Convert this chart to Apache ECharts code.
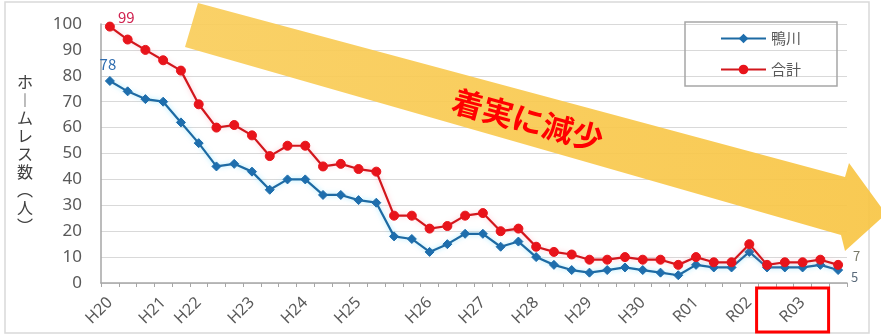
<!DOCTYPE html>
<html>
<head>
<meta charset="utf-8">
<script src="https://cdn.jsdelivr.net/npm/echarts/dist/echarts.min.js"></script>
<style>
html,body{margin:0;padding:0;background:#fff;}
#c{width:881px;height:336px;}
</style>
</head>
<body>
<div id="c"></div>
<script>
// ---- data ----
const xTickLabels = ['H20','','','H21','','H22','','','H23','','','H24','','','H25','','','','H26','','','H27','','','H28','','','H29','','','H30','','','R01','','','R02','','','R03','',''];
const categories = xTickLabels.map((l, i) => 'S' + (i + 1));
const kamogawa = [78,74,71,70,62,54,45,46,43,36,40,40,34,34,32,31,18,17,12,15,19,19,14,16,10,7,5,4,5,6,5,4,3,7,6,6,12,6,6,6,7,5];
const total    = [99,94,90,86,82,69,60,61,57,49,53,53,45,46,44,43,26,26,21,22,26,27,20,21,14,12,11,9,9,10,9,9,7,10,8,8,15,7,8,8,9,7];
const yTicks = [0,10,20,30,40,50,60,70,80,90,100];
const seriesNames = ['鴨川', '合計'];
const yAxisName = 'ホ\n︱\nム\nレ\nス\n数\n︵\n人\n︶';
const annotationText = '着実に減少';
const highlightCategoryIndex = 39;

const FONT = '"Noto Sans CJK JP", "Noto Sans", sans-serif';
const chart = echarts.init(document.getElementById('c'), null, {renderer: 'canvas'});

function withEndLabels(values, firstLabel, lastLabel) {
  const last = values.length - 1;
  return values.map((v, i) => {
    if (i === 0) return {value: v, label: firstLabel};
    if (i === last) return {value: v, label: lastLabel};
    return v;
  });
}

const blueData = withEndLabels(kamogawa,
  {show: true, position: 'top', distance: 4, offset: [-2, 0], color: '#2F6DB0', fontSize: 15, fontFamily: FONT},
  {show: true, position: 'right', distance: 4, offset: [4, 7], color: '#5b6b7b', fontSize: 13, fontFamily: FONT});
const redData = withEndLabels(total,
  {show: true, position: 'right', distance: 3, offset: [0, -9], color: '#D0214F', fontSize: 15, fontFamily: FONT},
  {show: true, position: 'right', distance: 4, offset: [6, -9], color: '#7a7a6a', fontSize: 13, fontFamily: FONT});

const option = {
  animation: false,
  backgroundColor: '#ffffff',
  textStyle: {fontFamily: FONT},
  grid: {left: 101, right: 34, top: 24, bottom: 53, containLabel: false},
  legend: {
    orient: 'vertical',
    left: 685, top: 22,
    padding: [9, 36, 9, 35],
    itemGap: 16,
    itemWidth: 45, itemHeight: 12,
    borderColor: '#A6A6A6', borderWidth: 1.5,
    textStyle: {fontSize: 15, color: '#595959', fontFamily: FONT},
    data: seriesNames
  },
  xAxis: {
    type: 'category',
    data: categories,
    boundaryGap: true,
    axisLine: {show: true, lineStyle: {color: '#A6A6A6', width: 1.5}},
    axisTick: {show: true, interval: 0, length: 4, lineStyle: {color: '#A6A6A6'}},
    axisLabel: {
      interval: 0, rotate: 45, margin: 17,
      fontSize: 16, color: '#5a5a5a', fontFamily: '"Noto Sans", sans-serif',
      hideOverlap: false,
      formatter: (v, i) => xTickLabels[i]
    },
    splitLine: {show: false}
  },
  yAxis: {
    type: 'value',
    min: yTicks[0], max: yTicks[yTicks.length - 1], interval: 10,
    name: yAxisName,
    nameLocation: 'middle',
    nameRotate: 0,
    nameGap: 76,
    nameTextStyle: {fontSize: 16, lineHeight: 18, color: '#404040', align: 'center', verticalAlign: 'middle', fontFamily: FONT},
    axisLine: {show: true, lineStyle: {color: '#A6A6A6', width: 1.5}},
    axisTick: {show: false},
    axisLabel: {fontSize: 17, color: '#595959', margin: 19, fontFamily: '"Noto Sans", sans-serif'},
    splitLine: {show: true, lineStyle: {color: '#D9D9D9', width: 1.2}}
  },
  series: [
    {
      name: seriesNames[0], type: 'line', data: blueData, z: 3,
      symbol: 'diamond', symbolSize: 9,
      lineStyle: {color: '#1D6AA3', width: 2.2, shadowColor: 'rgba(90,215,255,0.55)', shadowBlur: 5},
      itemStyle: {color: '#1E6EAD', borderColor: '#1E6EAD'}
    },
    {
      name: seriesNames[1], type: 'line', data: redData, z: 4,
      symbol: 'circle', symbolSize: 9,
      lineStyle: {color: '#D2161C', width: 2.2, shadowColor: 'rgba(255,140,160,0.5)', shadowBlur: 5},
      itemStyle: {color: '#E8141B', borderColor: '#E8141B'}
    }
  ]
};

chart.setOption(option);

const rcx = chart.convertToPixel({xAxisIndex: 0}, highlightCategoryIndex);
chart.setOption({
  graphic: [
    {
      type: 'rect', z: -10, silent: true,
      shape: {x: 5, y: 2, width: 864, height: 331},
      style: {fill: 'none', stroke: '#D9D9D9', lineWidth: 1.5}
    },
    {
      type: 'polygon', z: 1, silent: true,
      shape: {points: [[198,3],[845,177],[849,163],[886,214],[845,251],[841,235],[185,47]]},
      style: {
        fill: new echarts.graphic.LinearGradient(0, 0, 1, 0, [
          {offset: 0, color: '#F9CD5A'},
          {offset: 1, color: '#F8C544'}
        ]),
        opacity: 0.92
      }
    },
    {
      type: 'text', z: 10, silent: true,
      x: 528, y: 120,
      rotation: -15 * Math.PI / 180,
      style: {
        text: annotationText,
        fill: '#FF0000',
        font: 'bold 31px "Noto Sans CJK JP"',
        textAlign: 'center', textVerticalAlign: 'middle'
      }
    },
    {
      type: 'rect', z: 10, silent: true,
      shape: {x: rcx - 46, y: 288, width: 72, height: 44},
      style: {fill: 'none', stroke: '#FF0000', lineWidth: 3}
    }
  ]
});
</script>
</body>
</html>
